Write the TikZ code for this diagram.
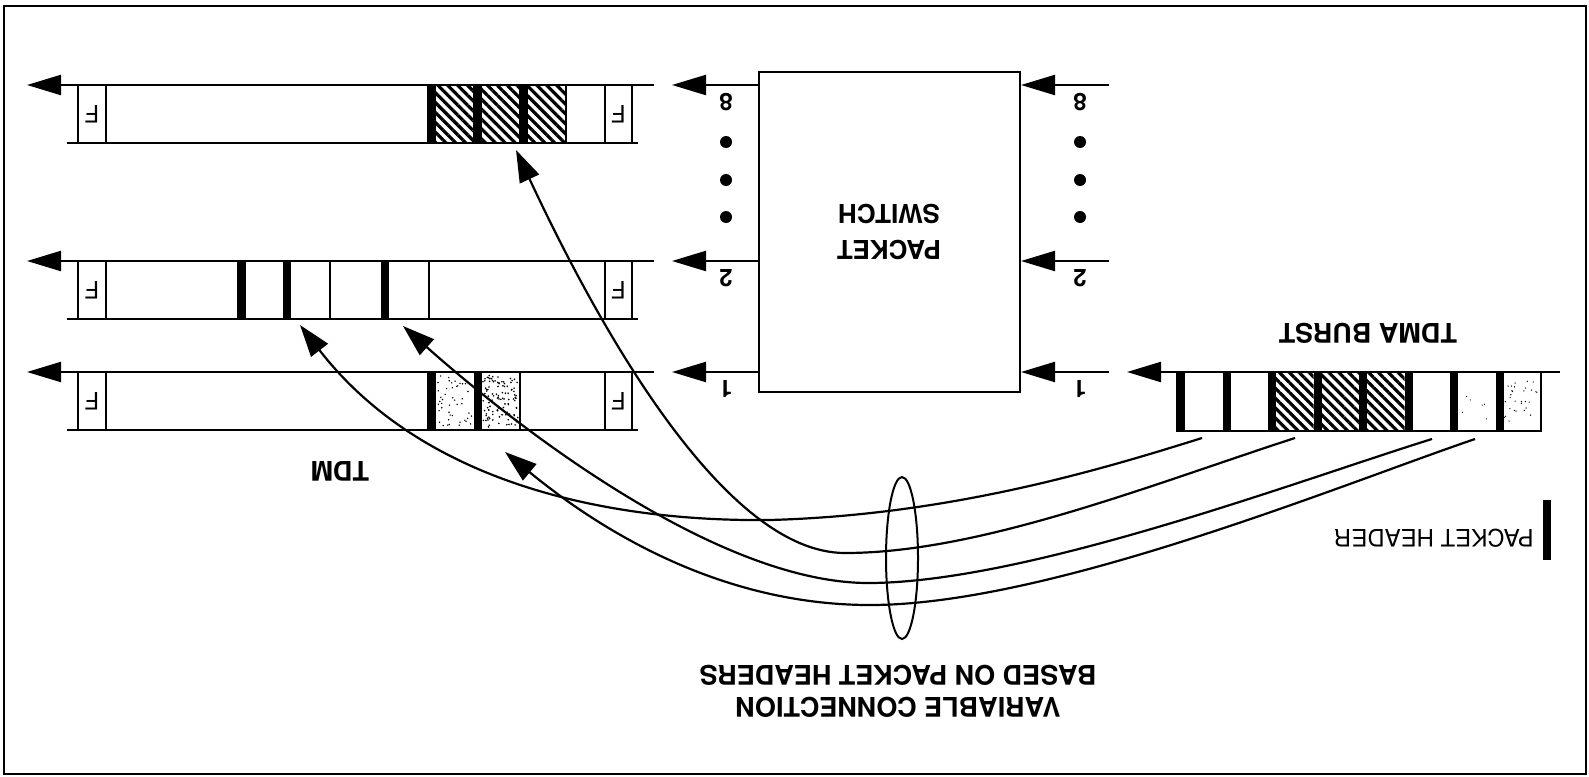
\documentclass[tikz,border=0pt]{standalone}
\usepackage{fontspec}
\setmainfont{TeX Gyre Heros}
\usetikzlibrary{arrows.meta,patterns.meta}
\begin{document}
\begin{tikzpicture}[x=1pt,y=-1pt,
  ln/.style={line width=2.3pt},
  arr/.style={-{Triangle[length=34pt,width=20pt]}, line width=2.3pt},
  carr/.style={-{Triangle[length=32pt,width=21pt]}, line width=2.2pt},
  cellbox/.style={draw, line width=2.3pt},
  hbar/.style={fill=black},
  hatch/.style={pattern={Lines[angle=-45,distance=7pt,line width=3.2pt]}},
  bigtxt/.style={font=\bfseries\fontsize{27}{32}\selectfont, rotate=180, align=center, inner sep=0pt},
  flbl/.style={font=\fontsize{24}{26}\selectfont, rotate=180, inner sep=0pt},
  numlbl/.style={font=\bfseries\fontsize{24}{26}\selectfont, rotate=180, inner sep=0pt},
  dotm/.style={fill=black}
]
\useasboundingbox (0,0) rectangle (1589,776);
\draw[line width=2.4pt] (4,6) rectangle (1586,774);

% ---------- TDM rows ----------
\foreach \t/\nm in {85/r8,261/r2,372/r1} {
  \pgfmathsetmacro\b{\t+58}
  \pgfmathsetmacro\m{\t+29}
  \draw[arr] (654,\t) -- (27,\t);
  \draw[ln] (67,\b) -- (638,\b);
  \draw[cellbox] (78,\t) rectangle (106,\b);
  \draw[cellbox] (605,\t) rectangle (632,\b);
  \node[flbl] (\nm FL) at (92,\m) {F};
  \node[flbl] (\nm FR) at (618.5,\m) {F};
}

% row 8 : three hatched cells
\foreach \x in {428,474,520} {
  \path[hatch] (\x+7,85) rectangle (\x+46,143);
  \fill[hbar] (\x,85) rectangle (\x+8,143);
}
\draw[cellbox] (428,85) rectangle (566,143);
\draw[ln] (474,85) -- (474,143) (520,85) -- (520,143);

% row 2 : four cells
\draw[cellbox] (238,261) rectangle (429,319);
\draw[ln] (284,261) -- (284,319) (330,261) -- (330,319) (382,261) -- (382,319);
\fill[hbar] (238,261) rectangle (246,319);
\fill[hbar] (283,261) rectangle (291,319);
\fill[hbar] (381,261) rectangle (389,319);

% row 1 : two stippled cells
\pgfmathsetseed{7}
\foreach \k in {1,...,45} {\fill ({437+35*rnd},{375+52*rnd}) circle (0.8pt);}
\foreach \k in {1,...,110} {\fill ({483+35*rnd},{375+52*rnd}) circle (0.9pt);}
\draw[cellbox] (428,372) rectangle (520,430);
\fill[hbar] (428,372) rectangle (436,430);
\fill[hbar] (474,372) rectangle (482,430);

\node[bigtxt] (tdm) at (340,471) {TDM};

% ---------- packet switch ----------
\draw[line width=2.4pt] (759,72) rectangle (1020,392);
\node[bigtxt, font=\bfseries\fontsize{26}{36}\selectfont] (sw) at (889,232) {PACKET\\SWITCH};
\foreach \y/\n in {85/8,261/2,372/1} {
  \draw[arr] (759,\y) -- (672,\y);
  \draw[arr] (1109,\y) -- (1021,\y);
  \node[numlbl] (ol\n) at (726,\y+17) {\n};
  \node[numlbl] (il\n) at (1080,\y+17) {\n};
}
\foreach \y in {142,180,217} {
  \fill[dotm] (726,\y) circle (6pt);
  \fill[dotm] (1080,\y) circle (6pt);
}

% ---------- TDMA burst ----------
\draw[arr] (1560,372) -- (1127,372);
\foreach \i in {2,3,4} {
  \path[hatch] ({1177+45.5*\i+7},372) rectangle ({1177+45.5*(\i+1)},431);
}
\pgfmathsetseed{11}
\foreach \k in {1,...,30} {\fill ({1504+34*rnd},{380+45*rnd}) circle (0.7pt);}
\foreach \k in {1,...,6} {\fill ({1462+25*rnd},{395+25*rnd}) circle (0.6pt);}
\draw[cellbox] (1177,372) rectangle (1541,431);
\foreach \i in {0,...,7} {
  \fill[hbar] ({1177+45.5*\i},372) rectangle ({1177+45.5*\i+8},431);
}
\node[bigtxt, font=\bfseries\fontsize{27}{30}\selectfont] (burst) at (1368,333) {TDMA BURST};

% legend
\fill[hbar] (1543,500) rectangle (1551,560);
\node[font=\fontsize{24}{26}\selectfont, rotate=180, inner sep=0pt] (ph) at (1434,538) {PACKET HEADER};

% ---------- connections ----------
\coordinate (s1) at (1202,438);
\coordinate (s2) at (1295,438);
\coordinate (s3) at (1432,439);
\coordinate (s4) at (1475,439);
\coordinate (e2a) at (300,325);
\coordinate (e8) at (516,150);
\coordinate (e2b) at (403,326);
\coordinate (e1) at (505,452);

\draw[carr] (s1) .. controls (1100,470) and (950,515) .. (770,520)
                 .. controls (600,522) and (420,480) .. (e2a);
\draw[carr] (s2) .. controls (1150,485) and (980,553) .. (845,553)
                 .. controls (725,553) and (600,330) .. (e8);
\draw[carr] (s3) .. controls (1300,480) and (1030,582) .. (870,583)
                 .. controls (720,584) and (520,430) .. (e2b);
\draw[carr] (s4) .. controls (1340,485) and (1050,605) .. (870,605)
                 .. controls (720,605) and (600,530) .. (e1);

\draw[line width=2pt] (902,558) ellipse [x radius=16pt, y radius=81pt];
\node[bigtxt] (vc) at (898,691) {VARIABLE CONNECTION\\BASED ON PACKET HEADERS};
\end{tikzpicture}
\end{document}
